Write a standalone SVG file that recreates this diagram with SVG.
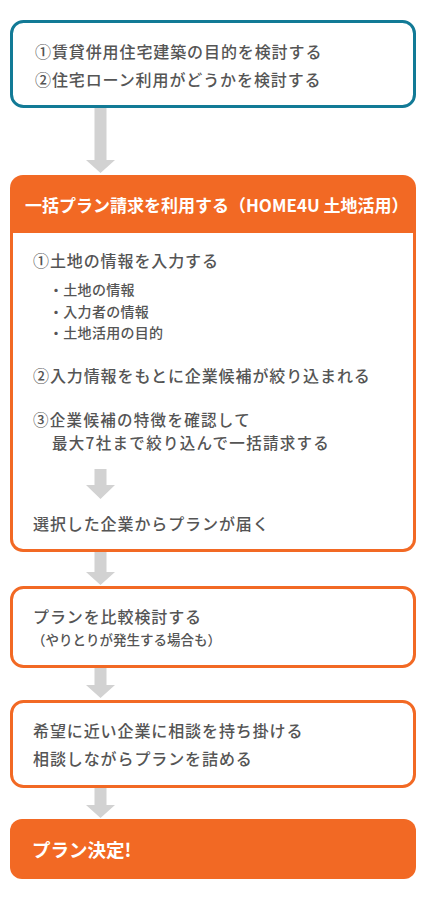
<svg xmlns="http://www.w3.org/2000/svg" width="427" height="900" viewBox="0 0 427 900">
<style>
.t{font-family:"Noto Sans CJK JP","Noto Sans",sans-serif;fill:#555;font-size:16px;font-weight:500;letter-spacing:0.9px}
.s{font-size:14px;letter-spacing:0.3px}
.w{font-family:"Noto Sans CJK JP","Noto Sans",sans-serif;fill:#fff;font-weight:bold}
.arr{fill:#d2d2d2}
.ob{fill:#fff;stroke:#f26924;stroke-width:3}
</style>
<rect width="427" height="900" fill="#fff"/>
<g id="node-consider">
<rect x="11.5" y="21.5" width="403" height="85" rx="12" fill="#fff" stroke="#127a96" stroke-width="3"/>
<text class="t" x="35" y="58">①賃貸併用住宅建築の目的を検討する</text>
<text class="t" x="35" y="86">②住宅ローン利用がどうかを検討する</text>
</g>
<g id="node-request">
<rect x="10" y="175" width="406" height="377" rx="13" fill="#f26924"/>
<path d="M13,233 H413 V539 A10,10 0 0 1 403,549 H23 A10,10 0 0 1 13,539 Z" fill="#fff"/>
<text class="w" x="25" y="212" font-size="17">一括プラン請求を利用する（HOME4U 土地活用）</text>
<text class="t" x="33" y="267">①土地の情報を入力する</text>
<text class="t s" x="49" y="295">・土地の情報</text>
<text class="t s" x="49" y="317">・入力者の情報</text>
<text class="t s" x="49" y="338">・土地活用の目的</text>
<text class="t" x="33" y="382">②入力情報をもとに企業候補が絞り込まれる</text>
<text class="t" x="33" y="426" style="font-size:15.5px;letter-spacing:1.3px">③企業候補の特徴を確認して</text>
<text class="t" x="52" y="449" style="font-size:15.5px;letter-spacing:1.3px">最大7社まで絞り込んで一括請求する</text>
<text class="t" x="33" y="530">選択した企業からプランが届く</text>
</g>
<g id="node-compare">
<rect class="ob" x="11.5" y="587.5" width="403" height="79" rx="12"/>
<text class="t" x="33" y="623">プランを比較検討する</text>
<text class="t" x="32" y="645" style="font-size:13.5px;letter-spacing:0px">（やりとりが発生する場合も）</text>
</g>
<g id="node-consult">
<rect class="ob" x="11.5" y="701.5" width="403" height="85" rx="12"/>
<text class="t" x="33" y="737">希望に近い企業に相談を持ち掛ける</text>
<text class="t" x="33" y="765">相談しながらプランを詰める</text>
</g>
<g id="node-decide">
<rect x="10" y="819" width="406" height="60" rx="12" fill="#f26924"/>
<text class="w" x="32" y="857" font-size="18.5">プラン決定!</text>
</g>
<g id="connectors">
<polygon class="arr" points="94.5,108 106.5,108 106.5,160 115,160 100.5,173 86,160 94.5,160"/>
<polygon class="arr" points="94.5,469 106.5,469 106.5,485 115,485 100.5,499 86,485 94.5,485"/>
<polygon class="arr" points="94.5,552 106.5,552 106.5,572 115,572 100.5,585 86,572 94.5,572"/>
<polygon class="arr" points="94.5,668 106.5,668 106.5,685 115,685 100.5,698 86,685 94.5,685"/>
<polygon class="arr" points="94.5,788 106.5,788 106.5,805 115,805 100.5,818 86,805 94.5,805"/>
</g>
</svg>
